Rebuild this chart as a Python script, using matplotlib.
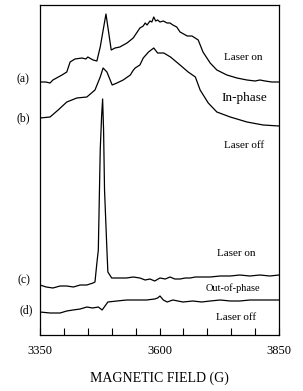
import matplotlib
matplotlib.use("Agg")
import matplotlib.pyplot as plt

# Magnetic field (G) and signal (arbitrary units, offset traces)
field_a = [3350, 3362, 3371, 3377, 3396, 3406, 3413, 3423, 3438, 3446, 3450, 3461, 3469,
           3476, 3488, 3499, 3507, 3517, 3532, 3545, 3559, 3566, 3570, 3574, 3580, 3584, 3588,
           3592, 3596, 3601, 3608, 3616, 3622, 3628, 3636, 3643, 3658, 3668, 3681, 3691, 3706, 3720,
           3741, 3762, 3783, 3800, 3810, 3821, 3835, 3850]
sig_a = [253, 253, 252, 255, 260, 263, 273, 276, 277, 276, 278, 275, 274,
         288, 321, 285, 287, 288, 292, 297, 307, 309, 312, 310, 314, 313, 318,
         314, 315, 313, 314, 312, 312, 310, 308, 303, 299, 299, 295, 283, 272, 265,
         260, 257, 255, 254, 255, 254, 253, 253]

field_b = [3350, 3371, 3388, 3406, 3427, 3448, 3465, 3476, 3482, 3490, 3501, 3511,
           3524, 3539, 3544, 3549, 3559, 3566, 3577, 3588, 3596, 3609, 3623, 3643, 3660,
           3675, 3685, 3702, 3720, 3748, 3783, 3817, 3850]
sig_b = [217, 218, 225, 233, 237, 238, 245, 258, 267, 263, 250, 252,
         255, 260, 264, 267, 270, 277, 283, 287, 282, 282, 278, 270, 263,
         258, 245, 232, 223, 218, 213, 210, 209]

field_c = [3350, 3363, 3377, 3392, 3406, 3420, 3434, 3448, 3461, 3465, 3469, 3472,
           3476, 3479, 3481, 3483, 3485, 3490, 3492, 3500, 3515, 3531, 3545, 3559,
           3570, 3580, 3590, 3601, 3612, 3622, 3632, 3643, 3654, 3664, 3675, 3685,
           3696, 3706, 3727, 3748, 3768, 3789, 3810, 3831, 3850]
sig_c = [50, 48, 47, 49, 49, 48, 50, 50, 52, 53, 72, 85,
         185, 220, 236, 205, 145, 85, 63, 57, 57, 57, 58, 57,
         55, 56, 54, 57, 56, 58, 56, 56, 57, 57, 58, 58,
         58, 58, 59, 59, 60, 59, 60, 59, 60]

field_d = [3350, 3371, 3392, 3406, 3419, 3434, 3448, 3460, 3472, 3480, 3492, 3511,
           3531, 3552, 3573, 3590, 3596, 3601, 3608, 3616, 3628, 3649, 3670, 3688,
           3706, 3727, 3748, 3768, 3789, 3810, 3831, 3850]
sig_d = [23, 22, 22, 24, 25, 26, 28, 27, 28, 25, 33, 34,
         35, 35, 35, 36, 37, 39, 35, 33, 35, 33, 34, 33,
         34, 35, 34, 34, 35, 35, 35, 35]

trace_labels = ["(a)", "(b)", "(c)", "(d)"]
trace_label_pos = [(3314, 256), (3316, 217), (3316, 55), (3322, 25)]
annotations = ["Laser on", "In-phase", "Laser off", "Laser on", "Out-of-phase", "Laser off"]
annotation_pos = [(3775, 278), (3777, 237), (3777, 190), (3760, 82), (3754, 47), (3760, 18)]
annotation_size = [8, 9.5, 8, 8, 7.5, 8]

tick_values = list(range(3350, 3851, 50))
tick_labels = ["3350", "", "", "", "", "3600", "", "", "", "", "3850"]

plt.rcParams['font.family'] = ['Liberation Serif', 'DejaVu Serif']

fig = plt.figure(figsize=(3.03, 3.91), dpi=100)
ax = fig.add_axes([40 / 303, (391 - 335) / 391, 239 / 303, 330 / 391])

for fx, sy in [(field_a, sig_a), (field_b, sig_b), (field_c, sig_c), (field_d, sig_d)]:
    ax.plot(fx, sy, color="black", lw=0.9)

ax.set_xlim(3350, 3850)
ax.set_ylim(0, 330)
ax.set_yticks([])
ax.set_xticks(tick_values)
ax.set_xticklabels(tick_labels, fontsize=9)
ax.tick_params(axis="x", direction="in", length=5, width=0.8, pad=7)
for s in ax.spines.values():
    s.set_linewidth(0.9)

for lab, (x, y) in zip(trace_labels, trace_label_pos):
    ax.text(x, y, lab, fontsize=8.5, ha="center", va="center", clip_on=False)
for t, (x, y), fs in zip(annotations, annotation_pos, annotation_size):
    ax.text(x, y, t, fontsize=fs, ha="center", va="center")

ax.set_xlabel("MAGNETIC FIELD (G)", fontsize=10, labelpad=11)

fig.savefig("out.png", dpi=100)
